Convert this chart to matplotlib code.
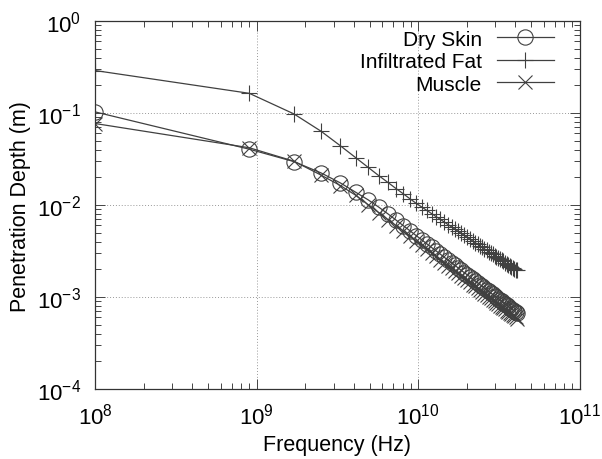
import matplotlib
matplotlib.use("Agg")
import matplotlib.pyplot as plt
from matplotlib.ticker import LogLocator, NullFormatter

plt.rcParams['font.family'] = ['Liberation Sans', 'DejaVu Sans']

# frequency points (GHz)
freq_ghz = [0.1, 0.9, 1.7, 2.5, 3.3, 4.1, 4.9, 5.7, 6.5, 7.3, 8.1, 8.9, 9.7,
            10.5, 11.3, 12.1, 12.9, 13.7, 14.5, 15.3, 16.1, 16.9, 17.7, 18.5,
            19.3, 20.1, 20.9, 21.7, 22.5, 23.3, 24.1, 24.9, 25.7, 26.5, 27.3,
            28.1, 28.9, 29.7, 30.5, 31.3, 32.1, 32.9, 33.7, 34.5, 35.3, 36.1,
            36.9, 37.7, 38.5, 39.3, 40.1, 40.9]
freq_hz = [f * 1e9 for f in freq_ghz]

# penetration depth (m)
dry_skin = [0.103, 0.0405, 0.0297, 0.0224, 0.0174, 0.0138, 0.0114, 0.0095,
            0.00802, 0.00686, 0.00596, 0.00525, 0.00467, 0.00420, 0.00380,
            0.00346, 0.00318, 0.00293, 0.00271, 0.00252, 0.00236, 0.00221,
            0.00207, 0.00195, 0.00184, 0.00175, 0.00166, 0.00157, 0.00150,
            0.00143, 0.00137, 0.00131, 0.00125, 0.00120, 0.00115, 0.00111,
            0.00107, 0.00103, 0.000994, 0.000960, 0.000927, 0.000897,
            0.000869, 0.000842, 0.000816, 0.000792, 0.000769, 0.000747,
            0.000726, 0.000706, 0.000687, 0.000669]
infiltrated_fat = [0.29, 0.164, 0.098, 0.0636, 0.0441, 0.0328, 0.0257, 0.0209,
                   0.0176, 0.0151, 0.01324, 0.0117, 0.01047, 0.00955, 0.00875,
                   0.00809, 0.00750, 0.00700, 0.00654, 0.00614, 0.00579,
                   0.00547, 0.00518, 0.00492, 0.00468, 0.00447, 0.00427,
                   0.00408, 0.00391, 0.00376, 0.00361, 0.00348, 0.00335,
                   0.00323, 0.00312, 0.00302, 0.00292, 0.00283, 0.00274,
                   0.00266, 0.00258, 0.00251, 0.00244, 0.00237, 0.00231,
                   0.00225, 0.00219, 0.00214, 0.00209, 0.00204, 0.00199,
                   0.00195]
muscle = [0.077, 0.042, 0.030, 0.0212, 0.0163, 0.0128, 0.0101, 0.00828,
          0.00695, 0.00596, 0.00519, 0.00457, 0.00408, 0.00367, 0.00332,
          0.00302, 0.00278, 0.00256, 0.00237, 0.00220, 0.00206, 0.00193,
          0.00181, 0.00170, 0.00161, 0.00153, 0.00145, 0.00137, 0.00131,
          0.00125, 0.00120, 0.00114, 0.00109, 0.00105, 0.00100, 0.000969,
          0.000934, 0.000899, 0.000868, 0.000838, 0.000809, 0.000783,
          0.000759, 0.000735, 0.000712, 0.000691, 0.000671, 0.000652,
          0.000634, 0.000616, 0.000600, 0.000584]

line_col = '#404040'

fig = plt.figure(figsize=(6.02, 4.60), dpi=100)
ax = fig.add_axes([0.158, 0.152, 0.805, 0.80])

common = dict(color=line_col, lw=0.9, mew=0.8, ms=11)
ax.plot(freq_hz, dry_skin, marker='o', mfc='none', label='Dry Skin', **common)
ax.plot(freq_hz, infiltrated_fat, marker='+', label='Infiltrated Fat', **common)
ax.plot(freq_hz, muscle, marker='x', ms=10, color=line_col, lw=0.9, mew=0.8,
        label='Muscle')

ax.set_xscale('log')
ax.set_yscale('log')
ax.set_xlim(1e8, 1e11)
ax.set_ylim(1e-4, 1e0)

ax.xaxis.set_major_locator(LogLocator(base=10, numticks=10))
ax.yaxis.set_major_locator(LogLocator(base=10, numticks=10))
ax.xaxis.set_minor_locator(LogLocator(base=10, subs=range(2, 10), numticks=20))
ax.yaxis.set_minor_locator(LogLocator(base=10, subs=range(2, 10), numticks=20))
ax.xaxis.set_minor_formatter(NullFormatter())
ax.yaxis.set_minor_formatter(NullFormatter())

ax.tick_params(which='both', direction='in', top=True, right=True,
               color='#444444', width=0.7)
ax.tick_params(which='major', length=7, labelsize=16)
ax.tick_params(axis='x', which='major', pad=10)
ax.tick_params(axis='y', which='major', pad=10)
ax.tick_params(which='minor', length=4)
for s in ax.spines.values():
    s.set_color('#333333')
    s.set_linewidth(0.9)

ax.grid(True, which='major', linestyle=(0, (1, 2)), color='#999999', lw=0.7)

ax.set_xlabel('Frequency (Hz)', fontsize=15.5, labelpad=4)
ax.set_ylabel('Penetration Depth (m)', fontsize=15.5, labelpad=4)

ax.legend(loc='upper right', frameon=False, markerfirst=False, fontsize=15,
          handlelength=2.74, handletextpad=0.72, labelspacing=0.17,
          borderaxespad=0, bbox_to_anchor=(0.964, 0.9995))

fig.savefig('out.png', dpi=100)
